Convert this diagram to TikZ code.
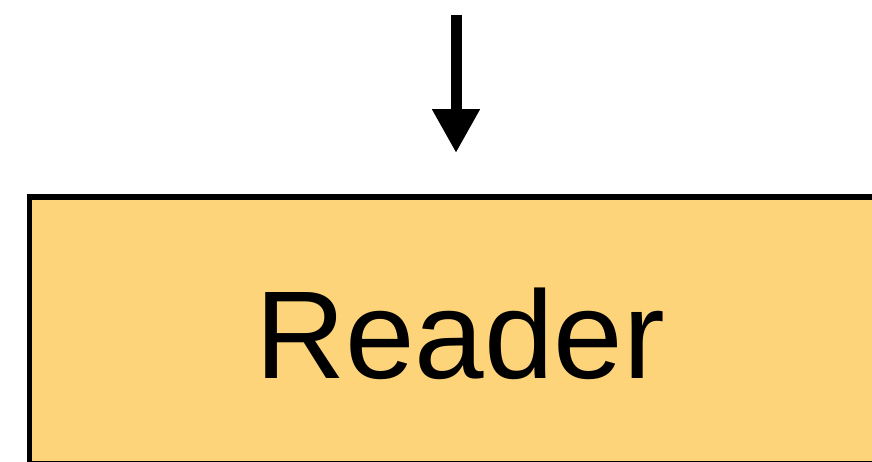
\documentclass[tikz,border=0pt]{standalone}
\usepackage{fontspec}
\setmainfont{Liberation Sans}
\usetikzlibrary{arrows.meta}

\definecolor{readerfill}{RGB}{253,212,122}

\tikzset{
  stage/.style={shape=rectangle,draw=black,fill=readerfill,line width=5.5pt,
    font=\fontsize{125pt}{125pt}\selectfont,text height=97pt,text depth=0pt},
  flow/.style={line width=11pt,-{Triangle[width=45pt,length=44pt]}}
}

\begin{document}
\begin{tikzpicture}[x=1pt,y=1pt]
\useasboundingbox (0,0) rectangle (872,462);
\node[stage,minimum width=861pt,minimum height=267pt] (reader) at (460,131.7) {Reader};
\coordinate (in) at (456,447);
\draw[flow,shorten >=41pt] (in) -- (in |- reader.north);
\end{tikzpicture}
\end{document}
